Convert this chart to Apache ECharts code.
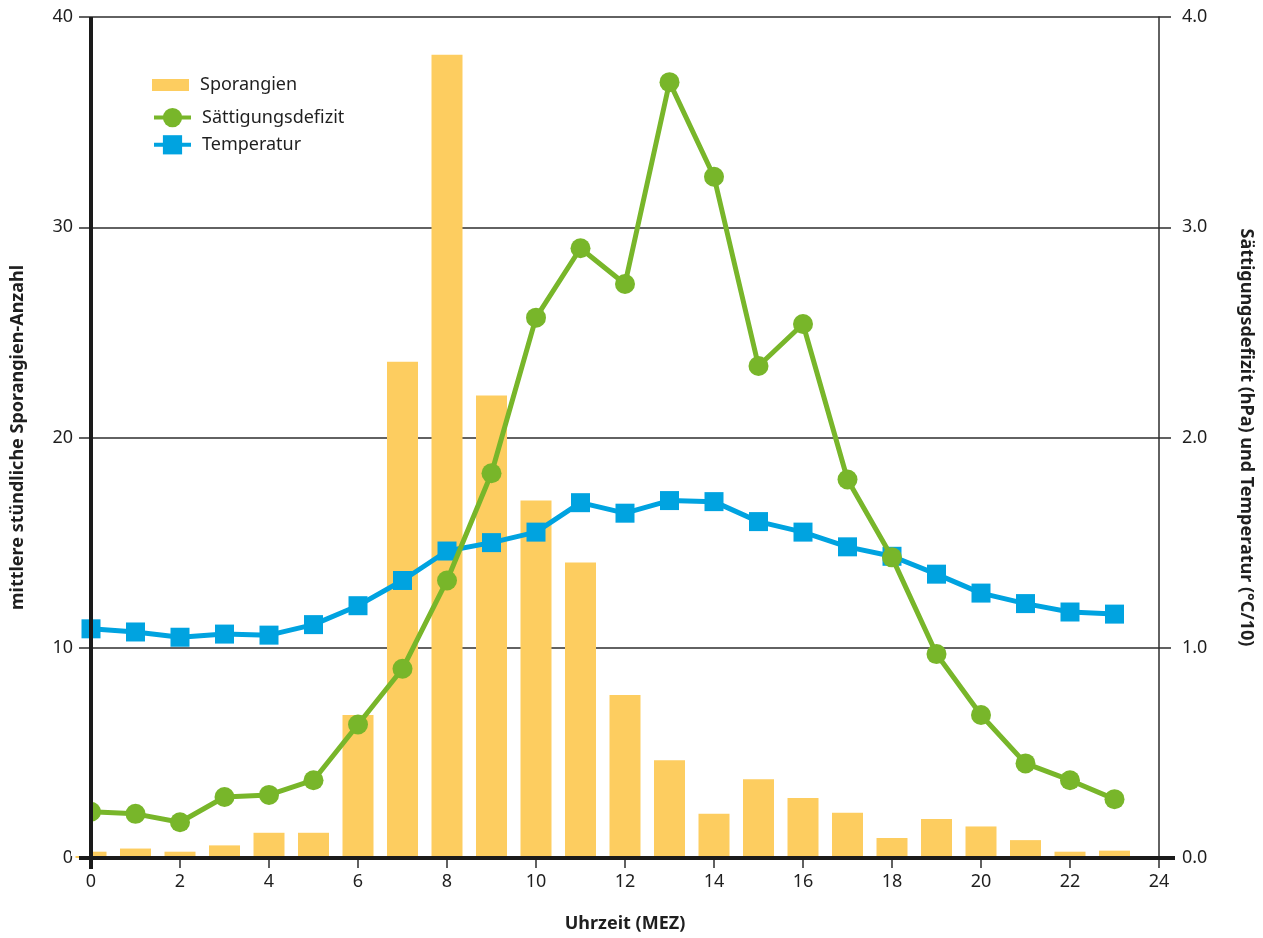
<!DOCTYPE html>
<html>
<head>
<meta charset="utf-8">
<script src="https://cdn.jsdelivr.net/npm/echarts@6/dist/echarts.min.js"></script>
<style>
  html, body { margin: 0; padding: 0; background: #fff; overflow: hidden; }
  #chart { width: 1263px; height: 938px; }
</style>
</head>
<body>
<div id="chart"></div>
<script>
// Stunde des Tages (MEZ)
const hours = [0, 1, 2, 3, 4, 5, 6, 7, 8, 9, 10, 11, 12, 13, 14, 15, 16, 17, 18, 19, 20, 21, 22, 23];

// mittlere stündliche Sporangien-Anzahl
const sporangien = [0.3, 0.45, 0.3, 0.6, 1.2, 1.2, 6.8, 23.6, 38.2, 22.0, 17.0, 14.05, 7.75, 4.65, 2.1, 3.75, 2.85, 2.15, 0.95, 1.85, 1.5, 0.85, 0.3, 0.35];

// Sättigungsdefizit (hPa)
const saettigungsdefizit = [0.22, 0.21, 0.17, 0.29, 0.30, 0.37, 0.635, 0.90, 1.32, 1.83, 2.57, 2.90, 2.73, 3.69, 3.24, 2.34, 2.54, 1.80, 1.43, 0.97, 0.68, 0.45, 0.37, 0.28];

// Temperatur (°C/10)
const temperatur = [1.09, 1.075, 1.05, 1.065, 1.06, 1.11, 1.20, 1.32, 1.46, 1.50, 1.55, 1.69, 1.64, 1.70, 1.695, 1.60, 1.55, 1.48, 1.435, 1.35, 1.26, 1.21, 1.17, 1.16];

const leftTicks = [0, 10, 20, 30, 40];
const rightTicks = [0.0, 1.0, 2.0, 3.0, 4.0];

const FONT = 'Noto Sans';
const TEXT = '#1f1f1f';
const GRID = '#2e2e2e';
const AXIS = '#1a1a1a';
const C_BAR = '#FDCD60';
const C_GREEN = '#78B62A';
const C_BLUE = '#00A3E0';

const pair = (vals) => hours.map((h, i) => [h, vals[i]]);

const chart = echarts.init(document.getElementById('chart'), null, { renderer: 'canvas' });

const option = {
  backgroundColor: '#ffffff',
  animation: false,
  textStyle: { fontFamily: FONT, color: TEXT },
  grid: { left: 91, right: 99, top: 17, bottom: 69, containLabel: false },
  legend: [
    {
      data: [{ name: 'Sporangien', icon: 'rect' }],
      left: 152, top: 76,
      padding: 0,
      orient: 'vertical',
      itemWidth: 37, itemHeight: 12,
      textStyle: { fontFamily: FONT, fontSize: 18, color: TEXT, padding: [0, 0, 0, 6] }
    },
    {
      data: ['Sättigungsdefizit', 'Temperatur'],
      left: 152, top: 108,
      padding: 0,
      orient: 'vertical',
      itemGap: 8,
      itemWidth: 37, itemHeight: 24,
      lineStyle: { width: 4 },
      textStyle: { fontFamily: FONT, fontSize: 18, color: TEXT, padding: [0, 0, 0, 6] }
    }
  ],
  xAxis: {
    type: 'value',
    min: 0, max: 24, interval: 2,
    name: 'Uhrzeit (MEZ)',
    nameLocation: 'middle',
    nameGap: 57,
    nameTextStyle: { fontFamily: FONT, fontSize: 18, fontWeight: 'bold', color: TEXT },
    axisLine: { show: false },
    axisTick: { show: true, length: 10, lineStyle: { color: GRID, width: 1.5 } },
    axisLabel: { fontFamily: FONT, fontSize: 18, color: TEXT, margin: 15 },
    splitLine: { show: false }
  },
  yAxis: [
    {
      type: 'value',
      min: 0, max: 40, interval: 10,
      position: 'left',
      name: 'mittlere stündliche Sporangien-Anzahl',
      nameLocation: 'middle',
      nameRotate: 90,
      nameGap: 64,
      nameTextStyle: { fontFamily: FONT, fontSize: 18, fontWeight: 'bold', color: TEXT },
      axisLine: { show: false },
      axisTick: { show: true, length: 12, lineStyle: { color: GRID, width: 1.5 } },
      axisLabel: {
        fontFamily: FONT, fontSize: 18, color: TEXT, margin: 18,
        formatter: (v) => leftTicks.includes(v) ? String(v) : ''
      },
      splitLine: { show: true, lineStyle: { color: GRID, width: 1.5 } }
    },
    {
      type: 'value',
      min: 0, max: 4, interval: 1,
      position: 'right',
      name: 'Sättigungsdefizit (hPa) und Temperatur (°C/10)',
      nameLocation: 'middle',
      nameRotate: -90,
      nameGap: 78,
      nameTextStyle: { fontFamily: FONT, fontSize: 18, fontWeight: 'bold', color: TEXT },
      axisLine: { show: true, lineStyle: { color: GRID, width: 1.5 } },
      axisTick: { show: true, length: 12, lineStyle: { color: GRID, width: 1.5 } },
      axisLabel: {
        fontFamily: FONT, fontSize: 18, color: TEXT, margin: 23,
        formatter: (v) => rightTicks.includes(v) ? v.toFixed(1) : ''
      },
      splitLine: { show: false }
    }
  ],
  series: [
    {
      name: 'Sporangien',
      type: 'bar',
      yAxisIndex: 0,
      data: pair(sporangien),
      barWidth: 31,
      clip: true,
      itemStyle: { color: C_BAR },
      z: 1
    },
    {
      name: 'Temperatur',
      type: 'line',
      yAxisIndex: 1,
      data: pair(temperatur),
      symbol: 'rect',
      symbolSize: 19,
      lineStyle: { color: C_BLUE, width: 5 },
      itemStyle: { color: C_BLUE },
      z: 3
    },
    {
      name: 'Sättigungsdefizit',
      type: 'line',
      yAxisIndex: 1,
      data: pair(saettigungsdefizit),
      symbol: 'circle',
      symbolSize: 20,
      lineStyle: { color: C_GREEN, width: 5 },
      itemStyle: { color: C_GREEN },
      z: 4
    }
  ]
};

chart.setOption(option);

// Heavy axis lines: baseline across the full width and the left vertical axis;
// a white strip masks the half of the first bar that falls left of the axis
const p00 = chart.convertToPixel({ gridIndex: 0 }, [0, 0]);
const p240 = chart.convertToPixel({ gridIndex: 0 }, [24, 0]);
const pTop = chart.convertToPixel({ xAxisIndex: 0, yAxisIndex: 0 }, [0, 40]);
const p05 = chart.convertToPixel({ xAxisIndex: 0, yAxisIndex: 0 }, [0, 5]);
chart.setOption({
  graphic: [
    {
      type: 'rect', z: 50,
      shape: { x: p00[0] - 20, y: p05[1], width: 20, height: p00[1] - p05[1] - 2 },
      style: { fill: '#ffffff' }
    },
    {
      type: 'line', z: 100,
      shape: { x1: p00[0] - 12, y1: p00[1], x2: p240[0] + 16, y2: p00[1] },
      style: { stroke: AXIS, lineWidth: 4 }
    },
    {
      type: 'line', z: 100,
      shape: { x1: p00[0], y1: pTop[1], x2: p00[0], y2: p00[1] + 11 },
      style: { stroke: AXIS, lineWidth: 4 }
    }
  ]
});
</script>
</body>
</html>
